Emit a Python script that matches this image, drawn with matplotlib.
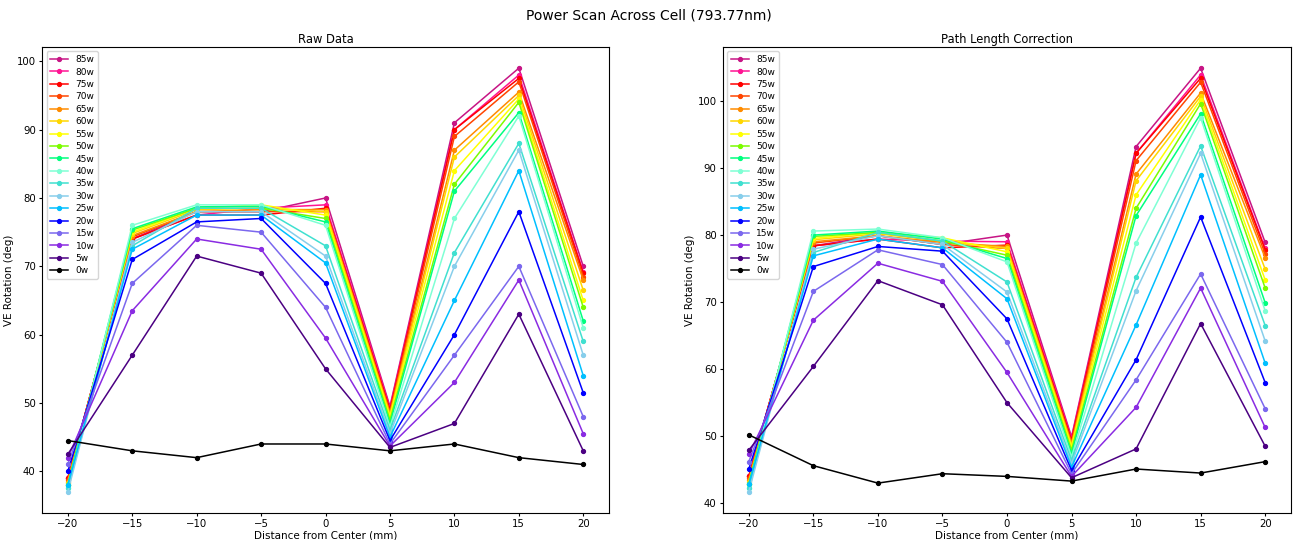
import numpy as np
import matplotlib
matplotlib.use("Agg")
import matplotlib.pyplot as plt

# positions across the cell (mm)
distance = [-20, -15, -10, -5, 0, 5, 10, 15, 20]

powers = ["85w", "80w", "75w", "70w", "65w", "60w", "55w", "50w", "45w",
          "40w", "35w", "30w", "25w", "20w", "15w", "10w", "5w", "0w"]

colours = ["mediumvioletred", "deeppink", "red", "orangered", "darkorange", "gold",
           "yellow", "lawngreen", "springgreen", "aquamarine", "turquoise", "skyblue",
           "deepskyblue", "blue", "mediumslateblue", "blueviolet", "indigo", "black"]

# raw VE rotation (deg)
raw_85 = [39.0, 74.0, 78.0, 78.0, 80.0, 49.5, 91.0, 99.0, 70.0]
raw_80 = [39.0, 74.0, 77.5, 78.5, 79.0, 49.3, 90.0, 98.0, 69.2]
raw_75 = [39.0, 74.0, 77.5, 77.5, 78.5, 49.0, 90.0, 97.5, 69.0]
raw_70 = [38.8, 74.3, 78.0, 78.0, 78.0, 48.7, 89.0, 97.0, 68.5]
raw_65 = [38.5, 74.5, 78.0, 78.3, 78.3, 48.5, 87.0, 95.5, 68.0]
raw_60 = [38.3, 74.8, 78.3, 78.5, 78.0, 48.2, 86.0, 95.0, 66.5]
raw_55 = [38.0, 75.0, 78.5, 79.0, 77.5, 48.0, 84.0, 94.5, 65.0]
raw_50 = [38.0, 75.3, 78.5, 78.5, 77.0, 47.5, 82.0, 94.0, 64.0]
raw_45 = [38.0, 75.5, 78.7, 78.8, 76.5, 47.0, 81.0, 92.5, 62.0]
raw_40 = [37.5, 76.0, 79.0, 79.0, 76.0, 46.5, 77.0, 92.0, 61.0]
raw_35 = [37.5, 73.0, 78.5, 78.5, 73.0, 46.0, 72.0, 88.0, 59.0]
raw_30 = [37.0, 73.5, 78.0, 78.0, 71.5, 45.5, 70.0, 87.0, 57.0]
raw_25 = [38.0, 72.5, 77.5, 77.5, 70.5, 45.0, 65.0, 84.0, 54.0]
raw_20 = [40.0, 71.0, 76.5, 77.0, 67.5, 44.5, 60.0, 78.0, 51.5]
raw_15 = [41.0, 67.5, 76.0, 75.0, 64.0, 44.0, 57.0, 70.0, 48.0]
raw_10 = [42.0, 63.5, 74.0, 72.5, 59.5, 43.7, 53.0, 68.0, 45.5]
raw_5 = [42.5, 57.0, 71.5, 69.0, 55.0, 43.5, 47.0, 63.0, 43.0]
raw_0 = [44.5, 43.0, 42.0, 44.0, 44.0, 43.0, 44.0, 42.0, 41.0]

# path length corrected VE rotation (deg)
cor_85 = [44.0, 78.4, 79.9, 78.6, 80.0, 49.9, 93.2, 104.9, 78.9]
cor_80 = [44.0, 78.4, 79.4, 79.1, 79.0, 49.7, 92.2, 103.9, 78.0]
cor_75 = [44.0, 78.4, 79.4, 78.1, 78.5, 49.4, 92.2, 103.4, 77.8]
cor_70 = [43.7, 78.8, 79.9, 78.6, 78.0, 49.1, 91.1, 102.8, 77.2]
cor_65 = [43.4, 79.0, 79.9, 78.9, 78.3, 48.9, 89.1, 101.2, 76.6]
cor_60 = [43.2, 79.3, 80.2, 79.1, 78.0, 48.6, 88.1, 100.7, 74.9]
cor_55 = [42.8, 79.5, 80.4, 79.6, 77.5, 48.4, 86.0, 100.2, 73.3]
cor_50 = [42.8, 79.8, 80.4, 79.1, 77.0, 47.9, 84.0, 99.6, 72.1]
cor_45 = [42.8, 80.0, 80.6, 79.4, 76.5, 47.4, 82.9, 98.1, 69.9]
cor_40 = [42.3, 80.6, 80.9, 79.6, 76.0, 46.9, 78.8, 97.5, 68.7]
cor_35 = [42.3, 77.4, 80.4, 79.1, 73.0, 46.4, 73.7, 93.3, 66.5]
cor_30 = [41.7, 77.9, 79.9, 78.6, 71.5, 45.9, 71.7, 92.2, 64.2]
cor_25 = [42.8, 76.9, 79.4, 78.1, 70.5, 45.4, 66.6, 89.0, 60.9]
cor_20 = [45.1, 75.3, 78.3, 77.6, 67.5, 44.9, 61.4, 82.7, 58.0]
cor_15 = [46.2, 71.6, 77.8, 75.6, 64.0, 44.4, 58.4, 74.2, 54.1]
cor_10 = [47.3, 67.3, 75.8, 73.1, 59.5, 44.0, 54.3, 72.1, 51.3]
cor_5 = [47.9, 60.4, 73.2, 69.6, 55.0, 43.8, 48.1, 66.8, 48.5]
cor_0 = [50.2, 45.6, 43.0, 44.4, 44.0, 43.3, 45.1, 44.5, 46.2]

raw = [raw_85, raw_80, raw_75, raw_70, raw_65, raw_60, raw_55, raw_50, raw_45,
       raw_40, raw_35, raw_30, raw_25, raw_20, raw_15, raw_10, raw_5, raw_0]
corrected = [cor_85, cor_80, cor_75, cor_70, cor_65, cor_60, cor_55, cor_50, cor_45,
             cor_40, cor_35, cor_30, cor_25, cor_20, cor_15, cor_10, cor_5, cor_0]

fig = plt.figure(figsize=(12.98, 5.4), dpi=100)
ax1 = fig.add_axes([0.0324, 0.05, 0.4368, 0.863])
ax2 = fig.add_axes([0.557, 0.05, 0.4376, 0.863])

for ax, data, title in [(ax1, raw, "Raw Data"), (ax2, corrected, "Path Length Correction")]:
    for vals, lab, col in zip(data, powers, colours):
        ax.plot(distance, vals, "-o", color=col, label=lab, markersize=2.8, linewidth=1.1)
    ax.set_title(title, fontsize=8.3, pad=3)
    ax.set_xlabel("Distance from Center (mm)", fontsize=7.5, labelpad=1)
    ax.set_ylabel("VE Rotation (deg)", fontsize=7.5, labelpad=2)
    ax.tick_params(labelsize=7.3, length=2.5, pad=2)
    ax.set_xticks(distance)
    ax.legend(loc="upper left", fontsize=6.5, labelspacing=0.38)

fig.suptitle("Power Scan Across Cell (793.77nm)", fontsize=10, y=0.985)

fig.savefig("out.png", dpi=100)
